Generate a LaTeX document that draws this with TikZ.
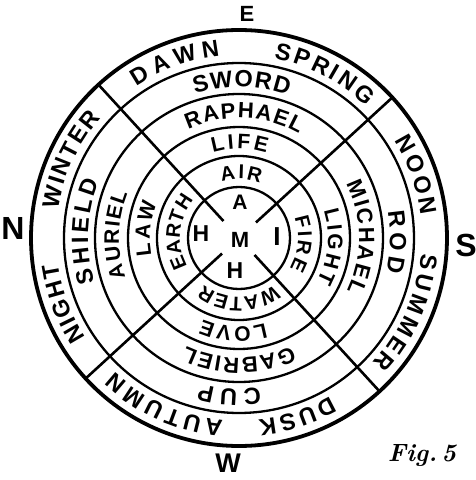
\documentclass[tikz,border=0pt]{standalone}
\usepackage{fontspec}
\newfontfamily\ringfont{Liberation Sans}
\usetikzlibrary{decorations.text}
\begin{document}
\begin{tikzpicture}[x=1pt, y=1pt,
  rim/.style={line width=3.8pt},
  ring/.style={line width=2.3pt},
  spoke/.style={line width=2.6pt},
  letter/.style={inner sep=0pt, font=\ringfont\bfseries\fontsize{#1}{#1}\selectfont}]
\useasboundingbox (-239,-242) rectangle (237,238);
% circles
\draw[rim] (0,0) circle[radius=208];
\foreach \r in {175,144,111,82,51}
  \draw[ring] (0,0) circle[radius=\r];
% spokes
\foreach \a in {42.5,132.5,222.5,312.5}
  \draw[spoke] (\a:23) -- (\a:208);
% words round the rings, read clockwise
\foreach \r/\a/\b/\s/\w in {
    183/124/96/23.5/DAWN, 183/79/46/23.5/SPRING, 183/32/7/23.5/NOON,
    183/-5/-43/23.5/SUMMER, 183/-60/-84/23.5/DUSK, 183/-95/-133/23.5/AUTUMN,
    183/213/188/23.5/NIGHT, 183/171/139/23.5/WINTER,
    151/107/71/23.5/SWORD, 151/10/-13/23.5/ROD, 151/-82/-105/23.5/CUP,
    151/197/158/23.5/SHIELD,
    120/115/60/22/RAPHAEL, 120/27/-26/22/MICHAEL, 120/-64/-116/22/GABRIEL,
    120/199/158/21/AURIEL,
    89/107/72/21/LIFE, 89/18/-29/21/LIGHT, 89/-73/-114/21/LOVE,
    89/191/157/21/LAW,
    59/107/69/20/AIR, 59/20/-31/20/FIRE, 59/-53/-127/20/WATER,
    59/209/140/20/EARTH} {
  \ringfont\bfseries\fontsize{\s}{\s}\selectfont
  \path[decorate, decoration={text along path, text/.expanded=\w,
      text align={fit to path}}]
    (\a:\r) arc[start angle=\a, end angle=\b, radius=\r];
}
% compass points
\node[letter=22] (E) at (8,224) {E};
\node[letter=32] (N) at (-226,10) {N};
\node[letter=32] (S) at (227,-7) {S};
\node[letter=27] (W) at (-11,-225) {W};
% centre
\node[letter=21] (A) at (1,36) {A};
\node[letter=23] (Hl) at (-38,4) {H};
\node[letter=22] (M) at (1,-2) {M};
\node[letter=26] (I) at (38,1) {I};
\node[letter=23] (Hb) at (-4,-33) {H};
\node[inner sep=0pt, font=\bfseries\itshape\fontsize{25}{25}\selectfont] (fig) at (183,-218) {Fig.\,5};
\end{tikzpicture}
\end{document}
